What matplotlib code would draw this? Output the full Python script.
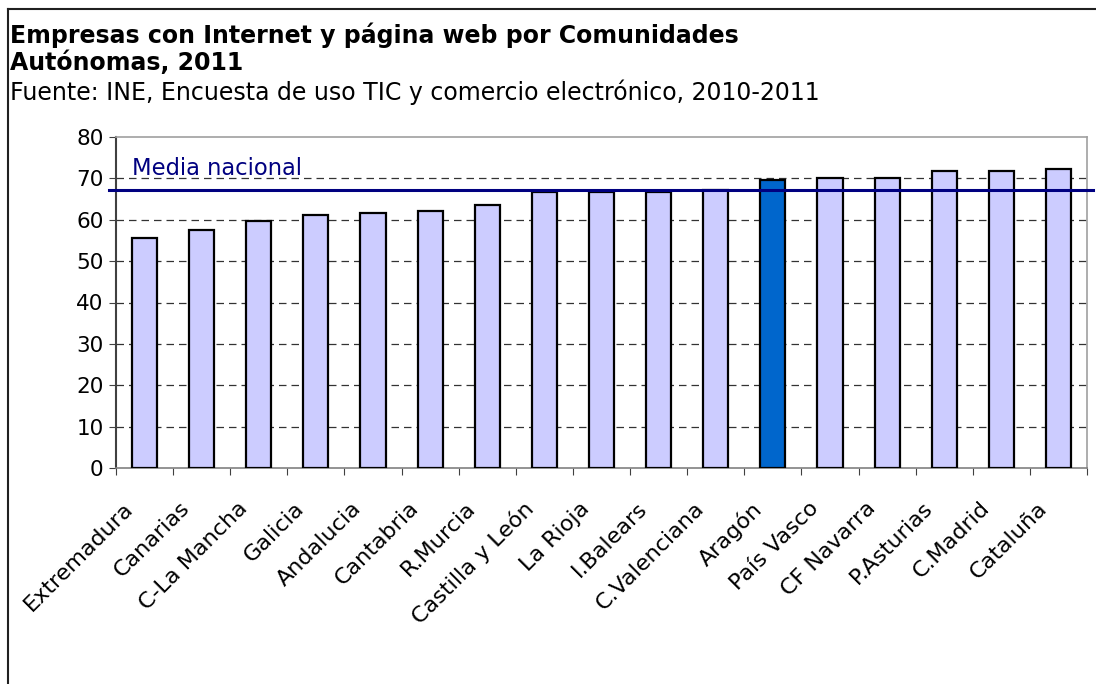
import matplotlib
matplotlib.use("Agg")
import matplotlib.pyplot as plt
from matplotlib.lines import Line2D
from matplotlib.transforms import offset_copy
import numpy as np

categories = ["Extremadura", "Canarias", "C-La Mancha", "Galicia", "Andalucia",
              "Cantabria", "R.Murcia", "Castilla y León", "La Rioja", "I.Balears",
              "C.Valenciana", "Aragón", "País Vasco", "CF Navarra", "P.Asturias",
              "C.Madrid", "Cataluña"]
values = [55.6, 57.6, 59.6, 61.1, 61.6, 62.2, 63.5, 66.6, 66.6, 66.6,
          67.2, 69.7, 70.2, 70.2, 71.7, 71.7, 72.2]
highlight = "Aragón"
media_nacional = 67.3
yticks = [0, 10, 20, 30, 40, 50, 60, 70, 80]

plt.rcParams['font.family'] = ['DejaVu Sans']

fig = plt.figure(figsize=(10.96, 6.84), dpi=100)
ax = fig.add_axes([116/1096, 1-468/684, (1087-116)/1096, (468-137)/684])

x = np.arange(len(categories))
colors = ["#0066CC" if c == highlight else "#CCCCFF" for c in categories]
ax.bar(x, values, width=0.44, color=colors, edgecolor="black", linewidth=1.6, zorder=3)

ax.set_xlim(-0.5, len(categories) - 0.5)
ax.set_ylim(0, 80)
ax.set_yticks(yticks)
ax.set_yticklabels([str(v) for v in yticks], fontsize=15.5)
for v in yticks[1:-1]:
    ax.axhline(v, color="black", linestyle=(0, (6, 4)), linewidth=0.9, alpha=0.8, zorder=1)

ax.set_xticks(np.arange(-0.5, len(categories), 1.0))
ax.set_xticklabels([])
ax.tick_params(axis="x", which="major", length=5, color="#404040")
ax.tick_params(axis="y", length=5, color="#404040", pad=4)

label_tr = offset_copy(ax.get_xaxis_transform(), fig=fig, x=-22, y=-30, units="dots")
for xi, name in zip(x, categories):
    ax.text(xi, 0, name, transform=label_tr, rotation=45, ha="right", va="top",
            rotation_mode="anchor", fontsize=16)

ax.spines["left"].set_color("#404040")
ax.spines["left"].set_linewidth(1.5)
ax.spines["bottom"].set_color("#808080")
ax.spines["bottom"].set_linewidth(1.2)
ax.spines["top"].set_color("#A0A0A0")
ax.spines["right"].set_color("#A0A0A0")
ax.spines["top"].set_linewidth(1.2)
ax.spines["right"].set_linewidth(1.2)

ax.axhline(media_nacional, xmin=-0.007, xmax=1.006, color="#000080", linewidth=2.2,
           clip_on=False, zorder=4)
ax.text(-0.22, media_nacional + 3.6, "Media nacional", color="#000080", fontsize=16.3,
        ha="left", va="baseline")

fig.text(10/1096, 1-35/684, "Empresas con Internet y página web por Comunidades",
         fontsize=17, fontweight="bold", ha="left", va="center")
fig.text(10/1096, 1-63/684, "Autónomas, 2011",
         fontsize=17, fontweight="bold", ha="left", va="center")
fig.text(10/1096, 1-92/684, "Fuente: INE, Encuesta de uso TIC y comercio electrónico, 2010-2011",
         fontsize=17, ha="left", va="center")

fig.add_artist(Line2D([8/1096, 1.0], [1-9/684, 1-9/684], transform=fig.transFigure,
                      color="#202020", linewidth=1.5))
fig.add_artist(Line2D([8/1096, 8/1096], [0, 1-9/684], transform=fig.transFigure,
                      color="#202020", linewidth=1.5))

fig.savefig("out.png", dpi=100)
